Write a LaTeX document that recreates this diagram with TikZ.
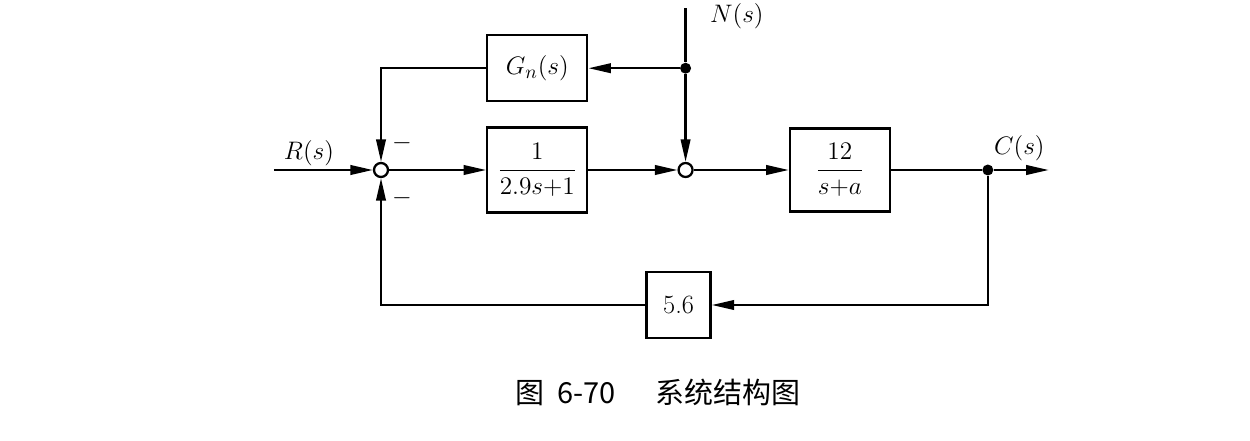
\documentclass[tikz,border=0pt]{standalone}
\usepackage{fontspec}
\usepackage{amsmath}
\newfontfamily\cjkfont{Noto Sans CJK SC}
\usetikzlibrary{arrows.meta,positioning,calc}
\tikzset{
  blk/.style={draw, rectangle, line width=1.3pt, minimum width=2cm, minimum height=1.7cm, inner xsep=0.1cm, align=center, font=\fontsize{15}{17}\selectfont},
  sumc/.style={draw, circle, fill=white, line width=1.3pt, minimum size=0.28cm, inner sep=0pt},
  dotc/.style={circle, fill=black, minimum size=0.22cm, inner sep=0pt},
  arr/.style={-{Triangle[length=4.5mm,width=1.9mm]}, line width=1.3pt},
  ln/.style={line width=1.3pt},
  lbl/.style={font=\fontsize{15}{17}\selectfont, inner sep=1pt},
}

\begin{document}
\begin{tikzpicture}
\useasboundingbox (0,0) rectangle (25,8.8);

\node[sumc] (sum1) at (7.62,5.4) {};
\node[blk, right=1.94cm of sum1] (g1) {$\dfrac{1}{2.9s{+}1}$};
\node[sumc, right=1.78cm of g1] (sum2) {};
\node[blk, right=1.9cm of sum2, minimum height=1.66cm] (g2) {$\dfrac{12}{s{+}a}$};
\node[dotc, right=1.82cm of g2] (out) {};
\coordinate[right=1.1cm of out] (cend);
\coordinate[left=1.98cm of sum1] (rin);

\node[blk, above=0.48cm of g1, minimum height=1.32cm] (gn) {$G_n(s)$};
\node[dotc] (br) at (sum2 |- gn) {};
\coordinate (nin) at ($(br)+(0,1.2)$);
\node[blk, minimum width=1.28cm, minimum height=1.32cm] (h) at ($(sum2)+(-0.14,-2.7)$) {5.6};

% labels
\node[lbl, above right=0.05cm and 0.16cm of rin] (rlbl) {$R(s)$};
\node[lbl, anchor=north west] (nlbl) at ($(nin)+(0.45,0.14)$) {$N(s)$};
\node[lbl, above right=0.05cm and 0cm of out] (clbl) {$C(s)$};
\node[lbl] (m1) at ($(sum1)+(0.42,0.54)$) {$-$};
\node[lbl] (m2) at ($(sum1)+(0.42,-0.56)$) {$-$};

% forward path
\draw[arr] (rin) -- (sum1);
\draw[arr] (sum1) -- (g1);
\draw[arr] (g1) -- (sum2);
\draw[arr] (sum2) -- (g2);
\draw[ln] (g2) -- (out);
\draw[arr] (out) -- (cend);

% disturbance
\draw[ln] (nin) -- (br);
\draw[arr] (br) -- (sum2);
\draw[arr] (br) -- (gn);
\draw[arr] (gn.west) -| (sum1);

% feedback
\draw[arr] (out) |- (h);
\draw[arr] (h) -| (sum1);

\node[font=\cjkfont\fontsize{16.5}{18}\selectfont] (cap) at (13.16,0.96) {图\hspace{0.25cm}6-70\hspace{0.8cm}系统结构图};

\end{tikzpicture}
\end{document}
